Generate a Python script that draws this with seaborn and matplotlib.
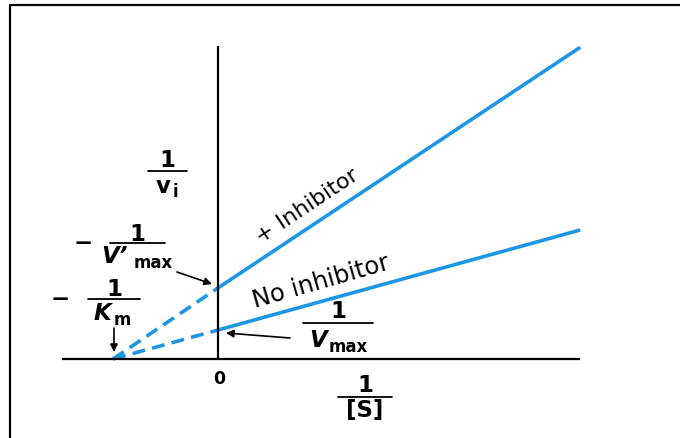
import matplotlib
matplotlib.use("Agg")
import matplotlib.pyplot as plt
from matplotlib.lines import Line2D
import numpy as np
import pandas as pd
import seaborn as sns

# Lineweaver-Burk (double reciprocal) plot: 1/v versus 1/[S]
inv_s = [-1.0, 0.0, 3.45]            # -1/Km, 0, right end of the plotted range
no_inhibitor = [0.0, 1.0, 4.45]      # 1/v without inhibitor (intercept 1/Vmax)
plus_inhibitor = [0.0, 2.45, 10.75]  # 1/v with inhibitor (intercept 1/V'max)

x_axis_range = [-1.49, 3.45]
y_axis_top = 10.8

BLUE = "#1e96e6"
W, H = 680, 438
BIG, SMALL = 16.5, 12

sns.set_theme(style="white")
plt.rcParams["font.family"] = ["DejaVu Sans"]
plt.rcParams["text.color"] = "black"

fig = plt.figure(figsize=(W / 100, H / 100), dpi=100)
ax = fig.add_axes([0, 0, 1, 1])
ax.set_xlim(-218 / 105, (W - 218) / 105)
ax.set_ylim((359 - H) / 29, 359 / 29)
ax.axis("off")

df = pd.DataFrame({"inv_s": inv_s, "none": no_inhibitor, "plus": plus_inhibitor})
solid = df[df["inv_s"] >= 0]
dashed = df[df["inv_s"] <= 0]
for col in ["none", "plus"]:
    sns.lineplot(data=solid, x="inv_s", y=col, ax=ax, color=BLUE, lw=2.6,
                 solid_capstyle="butt", legend=False)
    sns.lineplot(data=dashed, x="inv_s", y=col, ax=ax, color=BLUE, lw=2.6,
                 dashes=[(3.6, 2.0)], style=[0] * len(dashed), legend=False)

# axes drawn as plain black lines through the origin
ax.plot(x_axis_range, [0, 0], color="black", lw=1.6, solid_capstyle="butt")
ax.plot([0, 0], [0, y_axis_top], color="black", lw=1.6, solid_capstyle="butt")
ax.set_xlabel("")
ax.set_ylabel("")


def f(x, y):
    """pixel position -> figure fraction"""
    return x / W, 1 - y / H


def txt(x, y, s, size=BIG, ha="left", va="baseline", weight="bold", **kw):
    ax.text(*f(x, y), s, transform=fig.transFigure, fontsize=size, ha=ha,
            va=va, color="black", fontweight=weight, **kw)


def bar(cx, y, half):
    fig.add_artist(Line2D([(cx - half) / W, (cx + half) / W],
                          [1 - y / H, 1 - y / H], color="black", lw=1.3))


# frame (left and top edges)
fig.add_artist(Line2D([9.5 / W, 9.5 / W], [0, 1 - 5 / H], color="black", lw=1.6))
fig.add_artist(Line2D([9.5 / W, 1], [1 - 5 / H, 1 - 5 / H], color="black", lw=1.6))

# y-axis label 1/v_i
txt(167, 167, "1", ha="center")
bar(167, 171, 19.5)
txt(156, 193, "v")
txt(173, 197, "i", size=SMALL)

# x-axis label 1/[S]
txt(365, 392, "1", ha="center")
bar(365, 397, 27)
txt(365, 417, "[S]", ha="center")

# origin
txt(219, 384, "0", size=12.5, ha="center")

# -1/V'max
txt(83, 243, "\u2212", ha="center", va="center")
txt(137, 241, "1", ha="center")
bar(137, 243, 27.5)
txt(101, 263, "V\u2019", style="italic")
txt(134, 268, "max", size=SMALL)

# -1/Km
txt(60, 299, "\u2212", ha="center", va="center")
txt(114, 296, "1", ha="center")
bar(114, 299, 26)
txt(94, 320, "K", style="italic")
txt(114, 325, "m", size=SMALL)

# 1/Vmax
txt(338, 318, "1", ha="center")
bar(338, 323, 35)
txt(309, 347, "V", style="italic")
txt(329, 352, "max", size=SMALL)

arrow = dict(arrowstyle="-|>", color="black", lw=1.2, mutation_scale=11,
             shrinkA=0, shrinkB=0)
for start, end in [((177, 272), (212, 284)), ((114, 328), (114, 352)),
                   ((290, 338), (226, 333))]:
    ax.annotate("", xy=f(*end), xycoords="figure fraction", xytext=f(*start),
                textcoords="figure fraction", arrowprops=arrow)

# line labels, rotated along the lines
txt(311, 211, "+ Inhibitor", size=16, weight="normal", rotation=33.5,
    rotation_mode="anchor", ha="center")
txt(323, 289, "No inhibitor", size=17.5, weight="normal", rotation=16,
    rotation_mode="anchor", ha="center")

fig.savefig("out.png", dpi=100)
